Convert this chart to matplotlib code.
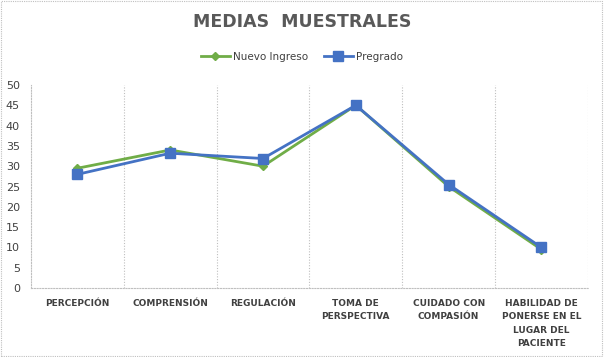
import matplotlib
matplotlib.use("Agg")
import matplotlib.pyplot as plt
from matplotlib.patches import Rectangle

categories = ["PERCEPCIÓN", "COMPRENSIÓN", "REGULACIÓN", "TOMA DE\nPERSPECTIVA",
              "CUIDADO CON\nCOMPASIÓN", "HABILIDAD DE\nPONERSE EN EL\nLUGAR DEL\nPACIENTE"]
nuevo_ingreso = [29.5, 34.0, 30.0, 45.0, 25.0, 9.5]
pregrado = [28.0, 33.2, 31.9, 45.0, 25.5, 10.0]
y_ticks = [0, 5, 10, 15, 20, 25, 30, 35, 40, 45, 50]

fig = plt.figure(figsize=(6.04, 3.57), dpi=100)
fig.patch.set_facecolor("white")
fig.patches.append(Rectangle((0.002, 0.003), 0.995, 0.994, transform=fig.transFigure,
                             fill=False, edgecolor="#BFBFBF", linestyle=(0, (1, 1)), linewidth=0.8))

ax = fig.add_axes([0.0513, 0.193, 0.922, 0.569])
x = list(range(len(categories)))
ax.plot(x, nuevo_ingreso, color="#70AD47", linewidth=2, marker="D", markersize=4.5,
        label="Nuevo Ingreso", zorder=3)
ax.plot(x, pregrado, color="#4472C4", linewidth=2, marker="s", markersize=7,
        label="Pregrado", zorder=4)

ax.set_xlim(-0.5, len(categories) - 0.5)
ax.set_ylim(0, 50)
ax.set_yticks(y_ticks)
ax.set_xticks(x)
ax.set_xticklabels(categories, fontsize=6.5, color="#404040", fontweight="bold",
                   linespacing=1.6, va="top")
ax.tick_params(axis="x", length=0, pad=8)
ax.tick_params(axis="y", length=0, labelsize=8, labelcolor="#404040", pad=8)

for b in [i + 0.5 for i in range(len(categories))]:
    ax.axvline(b, color="#BFBFBF", linestyle=(0, (1, 1.5)), linewidth=0.8, zorder=1)
for s in ["top", "right"]:
    ax.spines[s].set_visible(False)
for s in ["left", "bottom"]:
    ax.spines[s].set_color("#BFBFBF")
    ax.spines[s].set_linestyle((0, (1, 1.5)))
    ax.spines[s].set_linewidth(0.8)

fig.text(0.5, 0.937, "MEDIAS  MUESTRALES", ha="center", va="center", fontsize=12.5,
         fontweight="bold", color="#595959")
fig.legend(loc="center", bbox_to_anchor=(0.5, 0.84), ncol=2, frameon=False,
           fontsize=7.5, handlelength=2.8, columnspacing=1.5, handletextpad=0.3,
           labelcolor="#404040")

fig.savefig("out.png", dpi=100)
